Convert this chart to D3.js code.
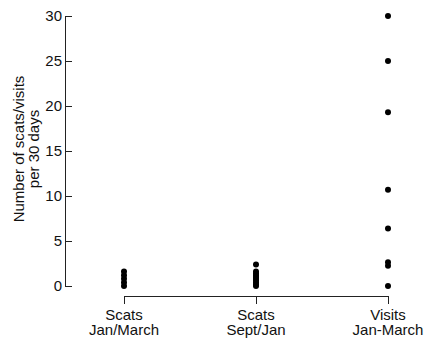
<!DOCTYPE html>
<html>
<head>
<meta charset="utf-8">
<script src="https://cdn.jsdelivr.net/npm/d3@7"></script>
<style>
  body { margin: 0; background: #fff; }
  text { font-family: "Liberation Sans", Arial, sans-serif; fill: #111; }
</style>
</head>
<body>
<svg width="427" height="340"></svg>
<script>
// groups along the x axis
const groups = ["g1", "g2", "g3"]
const groupLabels = [["Scats", "Jan/March"], ["Scats", "Sept/Jan"], ["Visits", "Jan-March"]]

// values, per group
const scatsJanMarch = [0, 0.4, 0.8, 1.2, 1.6]
const scatsSeptJan = [0, 0.2, 0.4, 0.6, 0.8, 1.0, 1.2, 1.4, 1.6, 2.4]
const visitsJanMarch = [0, 2.25, 2.65, 6.4, 10.7, 19.3, 25, 30]

const yTicks = [0, 5, 10, 15, 20, 25, 30]

const points = []
scatsJanMarch.forEach(v => points.push({ g: "g1", v: v }))
scatsSeptJan.forEach(v => points.push({ g: "g2", v: v }))
visitsJanMarch.forEach(v => points.push({ g: "g3", v: v }))

const svg = d3.select("svg")

const y = d3.scaleLinear().domain([0, 30]).range([286, 16])
const x = d3.scalePoint().domain(groups).range([124, 388])

// y axis, ticks pointing right
const yAxis = svg.append("g")
  .attr("transform", "translate(65,0)")
  .call(d3.axisRight(y).tickValues(yTicks).tickSize(7).tickSizeOuter(0))
yAxis.attr("font-size", null).attr("font-family", null)
yAxis.select(".domain").attr("stroke", "#222")
yAxis.selectAll(".tick line").attr("stroke", "#222")
yAxis.selectAll(".tick text")
  .attr("x", -3)
  .attr("text-anchor", "end")
  .attr("fill", null)
  .style("font-size", "15px")

// x axis
const xAxis = svg.append("g")
  .attr("transform", "translate(0,296)")
  .call(d3.axisBottom(x).tickSize(8).tickSizeOuter(0).tickFormat(""))
xAxis.select(".domain").attr("stroke", "#222")
xAxis.selectAll(".tick line").attr("stroke", "#222")

svg.append("g").selectAll("text.cat")
  .data(groups)
  .enter()
  .append("text")
  .attr("class", "cat")
  .attr("text-anchor", "middle")
  .attr("transform", d => "translate(" + x(d) + ",319.5)")
  .style("font-size", "15px")
  .each(function(d, i) {
    const t = d3.select(this)
    t.append("tspan").attr("x", 0).attr("y", 0).text(groupLabels[i][0])
    t.append("tspan").attr("x", 0).attr("y", 15.5).text(groupLabels[i][1])
  })

// y label
svg.append("text")
  .attr("transform", "translate(23.5,149) rotate(-90)")
  .attr("text-anchor", "middle")
  .style("font-size", "15px")
  .text("Number of scats/visits")
svg.append("text")
  .attr("transform", "translate(38.5,149) rotate(-90)")
  .attr("text-anchor", "middle")
  .style("font-size", "15px")
  .text("per 30 days")

// dots
svg.append("g").selectAll("circle")
  .data(points)
  .enter()
  .append("circle")
  .attr("cx", d => x(d.g))
  .attr("cy", d => y(d.v))
  .attr("r", 3)
  .attr("fill", "#000")
</script>
</body>
</html>
